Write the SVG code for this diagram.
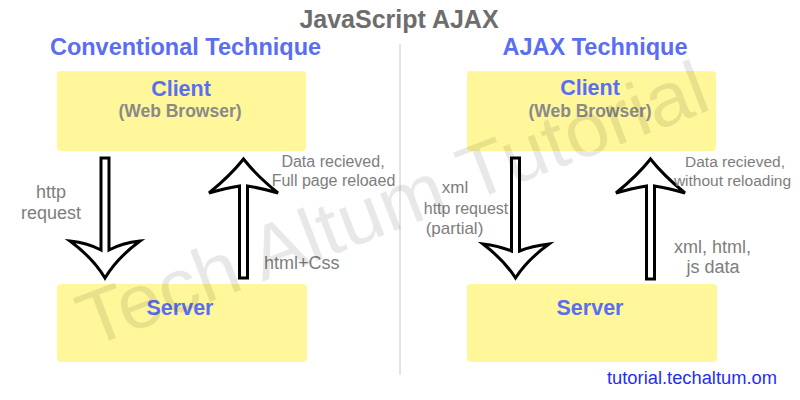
<svg xmlns="http://www.w3.org/2000/svg" width="800" height="400" viewBox="0 0 800 400">
<style>
.box{fill:#fff799}
.title{font-family:"Liberation Sans",Arial,sans-serif;font-weight:bold;fill:#6d6d6d;font-size:25px}
.head{font-family:"Liberation Sans",Arial,sans-serif;font-weight:bold;fill:#5a6ef2;font-size:23.5px}
.nm{font-family:"Liberation Sans",Arial,sans-serif;font-weight:bold;fill:#5a6ef2;font-size:21.5px}
.sub{font-family:"Liberation Sans",Arial,sans-serif;font-weight:bold;fill:#8a8a8a;font-size:17.5px}
.lb{font-family:"Liberation Sans",Arial,sans-serif;fill:#7d7d7d}
.arr{fill:#fff;stroke:#000;stroke-width:3;stroke-linejoin:miter}
</style>
<rect width="800" height="400" fill="#fff"/>
<text class="title" x="399" y="28" text-anchor="middle">JavaScript AJAX</text>
<line x1="400" y1="44" x2="400" y2="375" stroke="#c8c8c8" stroke-width="1"/>
<text class="head" x="185.5" y="55" text-anchor="middle">Conventional Technique</text>
<text class="head" x="595" y="55" text-anchor="middle">AJAX Technique</text>

<g id="client-left">
<rect class="box" x="57" y="71" width="249" height="80" rx="4"/>
<text class="nm" x="181" y="96" text-anchor="middle">Client</text>
<text class="sub" x="180" y="117" text-anchor="middle">(Web Browser)</text>
</g>
<g id="server-left">
<rect class="box" x="57" y="284" width="250" height="78" rx="4"/>
<text class="nm" x="180" y="315" text-anchor="middle">Server</text>
</g>
<g id="client-right">
<rect class="box" x="467" y="71" width="249" height="80" rx="4"/>
<text class="nm" x="590" y="95" text-anchor="middle">Client</text>
<text class="sub" x="590" y="117" text-anchor="middle">(Web Browser)</text>
</g>
<g id="server-right">
<rect class="box" x="467" y="284" width="250" height="78" rx="4"/>
<text class="nm" x="590" y="315" text-anchor="middle">Server</text>
</g>

<g id="connectors">
<path class="arr" d="M101,158 H109 V250 Q122,243 140,241 Q117,258 105,278 Q93,258 70,241 Q88,243 101,250 Z"/>
<path class="arr" d="M239.5,278 V186 Q226,188 209,193 Q231,175 243.5,159 Q256,175 278,193 Q261,188 247.5,186 V278 Z"/>
<path class="arr" d="M511.5,158 H519.5 V251 Q532,246 549,244 Q527,260 515.5,278 Q504,260 483,244 Q499,246 511.5,251 Z"/>
<path class="arr" d="M646.5,279 V186 Q633,188 616,193 Q638,175 650.5,159 Q663,175 685,193 Q668,188 654.5,186 V279 Z"/>
</g>

<g id="labels">
<text class="lb" font-size="18" x="51" y="198" text-anchor="middle">http</text>
<text class="lb" font-size="18" x="51" y="219" text-anchor="middle">request</text>
<text class="lb" font-size="16" x="333" y="167" text-anchor="middle">Data recieved,</text>
<text class="lb" font-size="16" x="333.5" y="186" text-anchor="middle">Full page reloaed</text>
<text class="lb" font-size="18" x="264" y="269">html+Css</text>
<text class="lb" font-size="17" x="455" y="193" text-anchor="middle">xml</text>
<text class="lb" font-size="16" x="466" y="214" text-anchor="middle">http request</text>
<text class="lb" font-size="17" x="454.5" y="234" text-anchor="middle">(partial)</text>
<text class="lb" font-size="15.5" x="735" y="167" text-anchor="middle">Data recieved,</text>
<text class="lb" font-size="15.5" x="732.5" y="186" text-anchor="middle">without reloading</text>
<text class="lb" font-size="18" x="712.5" y="253" text-anchor="middle">xml, html,</text>
<text class="lb" font-size="18" x="713" y="273" text-anchor="middle">js data</text>
</g>

<text x="607" y="384" font-family="'Liberation Sans',Arial,sans-serif" font-size="18" fill="#1f2ff0" textLength="170" lengthAdjust="spacingAndGlyphs">tutorial.techaltum.om</text>

<text x="90" y="348" transform="rotate(-21 90 348)" font-family="'Liberation Sans',Arial,sans-serif" font-size="76" fill="#000" fill-opacity="0.09" textLength="668" lengthAdjust="spacingAndGlyphs">Tech Altum Tutorial</text>
</svg>
